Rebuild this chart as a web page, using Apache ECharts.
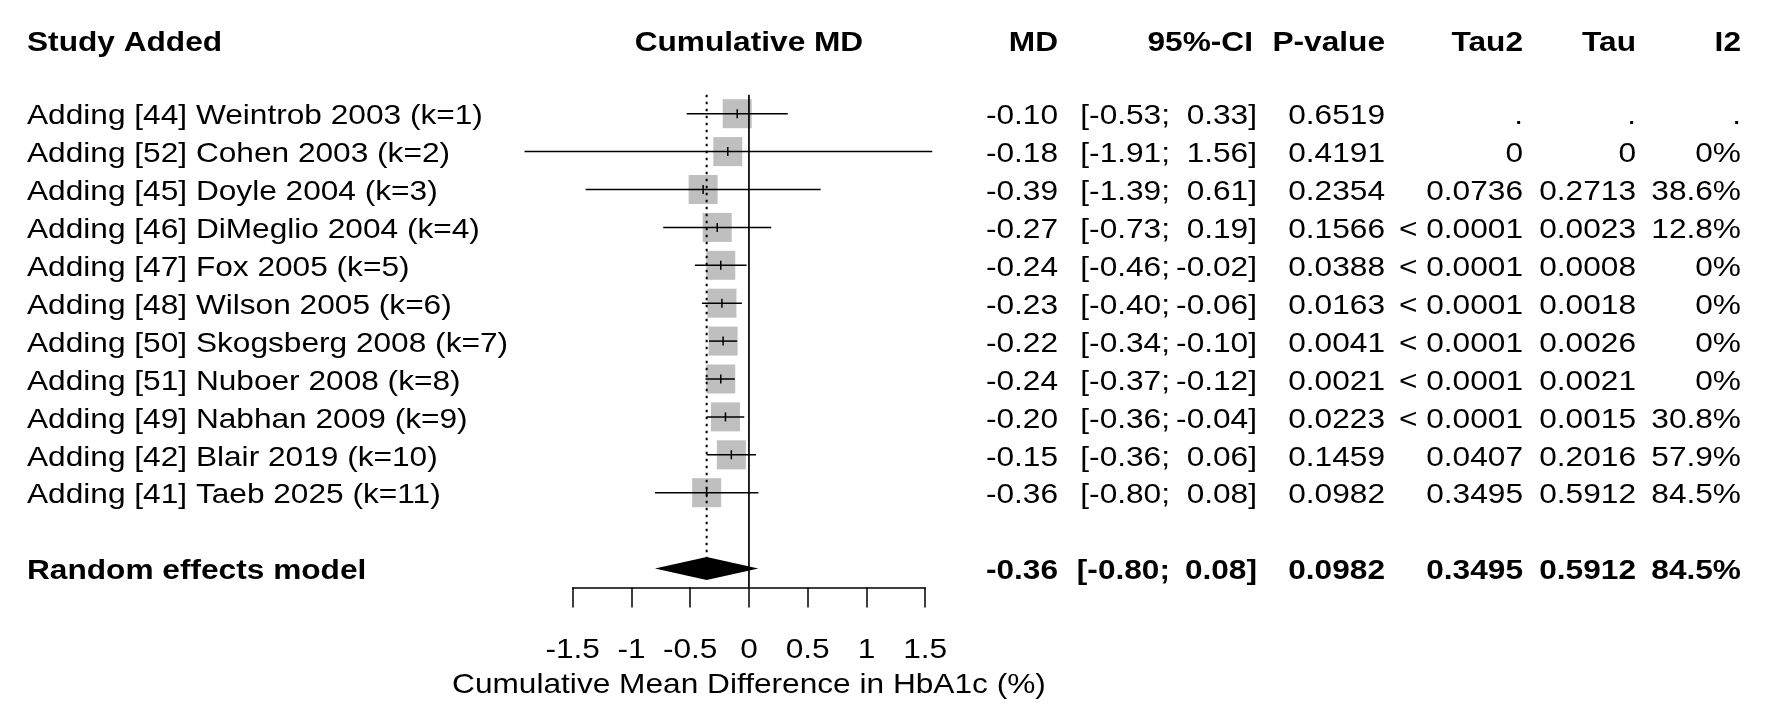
<!DOCTYPE html>
<html>
<head>
<meta charset="utf-8">
<title>Cumulative meta-analysis</title>
<style>
  html, body { margin: 0; padding: 0; background: #fff; }
  #chart { width: 1772px; height: 707px; }
</style>
<script src="https://cdn.jsdelivr.net/npm/echarts@6/dist/echarts.min.js"></script>
</head>
<body>
<div id="chart"></div>
<script>
// ---- data ----
const studies = [
  'Adding [44] Weintrob 2003 (k=1)',
  'Adding [52] Cohen 2003 (k=2)',
  'Adding [45] Doyle 2004 (k=3)',
  'Adding [46] DiMeglio 2004 (k=4)',
  'Adding [47] Fox 2005 (k=5)',
  'Adding [48] Wilson 2005 (k=6)',
  'Adding [50] Skogsberg 2008 (k=7)',
  'Adding [51] Nuboer 2008 (k=8)',
  'Adding [49] Nabhan 2009 (k=9)',
  'Adding [42] Blair 2019 (k=10)',
  'Adding [41] Taeb 2025 (k=11)'
];
const md    = [-0.10, -0.18, -0.39, -0.27, -0.24, -0.23, -0.22, -0.24, -0.20, -0.15, -0.36];
const lower = [-0.53, -1.91, -1.39, -0.73, -0.46, -0.40, -0.34, -0.37, -0.36, -0.36, -0.80];
const upper = [ 0.33,  1.56,  0.61,  0.19, -0.02, -0.06, -0.10, -0.12, -0.04,  0.06,  0.08];
const pval  = ['0.6519', '0.4191', '0.2354', '0.1566', '0.0388', '0.0163', '0.0041', '0.0021', '0.0223', '0.1459', '0.0982'];
const tau2  = ['.', '0', '0.0736', '< 0.0001', '< 0.0001', '< 0.0001', '< 0.0001', '< 0.0001', '< 0.0001', '0.0407', '0.3495'];
const tau   = ['.', '0', '0.2713', '0.0023', '0.0008', '0.0018', '0.0026', '0.0021', '0.0015', '0.2016', '0.5912'];
const i2    = ['.', '0%', '38.6%', '12.8%', '0%', '0%', '0%', '0%', '30.8%', '57.9%', '84.5%'];

const pooledLabel = 'Random effects model';
const pooled = { md: -0.36, lower: -0.80, upper: 0.08, p: '0.0982', tau2: '0.3495', tau: '0.5912', i2: '84.5%' };

const headers = ['Study Added', 'Cumulative MD', 'MD', '95%-CI', 'P-value', 'Tau2', 'Tau', 'I2'];
const xTicks = [-1.5, -1, -0.5, 0, 0.5, 1, 1.5];
const xTitle = 'Cumulative Mean Difference in HbA1c (%)';

// ---- layout ----
const FONT = '"Liberation Sans", Arial, Helvetica, sans-serif';
const STRETCH = 1.13;       // the source font is a bit wider than Arial
const TEXT_DY = 3;
const ROW_HEAD = -1.93;
const ROW_POOLED = 12;
const ROW_TICKS = 14.07;
const ROW_TITLE = 15.0;
const COL = { label: 27, md: 1058, ciLo: 1170, ciHi: 1257, p: 1385, tau2: 1523, tau: 1636, i2: 1741 };

const fmt = v => v.toFixed(2);

function txt(x, y, s, align, bold) {
  return {
    type: 'text',
    x: x,
    y: y + TEXT_DY,
    scaleX: STRETCH,
    style: {
      text: s,
      font: (bold ? 'bold ' : '') + '28px ' + FONT,
      fill: '#000',
      align: align,
      verticalAlign: 'middle',
      textAlign: align,
      textVerticalAlign: 'middle'
    }
  };
}

// rows for the text table: header, studies, pooled
const tableRows = [[ROW_HEAD]].concat(studies.map((s, i) => [i]), [[ROW_POOLED]]);

function renderTable(params, api) {
  const i = params.dataIndex;
  const y = api.coord([0, api.value(0)])[1];
  const xc = api.coord([0, api.value(0)])[0];
  if (i === 0) {
    return { type: 'group', children: [
      txt(COL.label, y, headers[0], 'left', true),
      txt(xc, y, headers[1], 'center', true),
      txt(COL.md, y, headers[2], 'right', true),
      txt(COL.ciHi - 4, y, headers[3], 'right', true),
      txt(COL.p, y, headers[4], 'right', true),
      txt(COL.tau2, y, headers[5], 'right', true),
      txt(COL.tau, y, headers[6], 'right', true),
      txt(COL.i2, y, headers[7], 'right', true)
    ]};
  }
  let r, bold;
  if (i === tableRows.length - 1) {
    r = { label: pooledLabel, md: pooled.md, lo: pooled.lower, hi: pooled.upper,
          p: pooled.p, tau2: pooled.tau2, tau: pooled.tau, i2: pooled.i2 };
    bold = true;
  } else {
    const k = i - 1;
    r = { label: studies[k], md: md[k], lo: lower[k], hi: upper[k],
          p: pval[k], tau2: tau2[k], tau: tau[k], i2: i2[k] };
    bold = false;
  }
  return { type: 'group', children: [
    txt(COL.label, y, r.label, 'left', bold),
    txt(COL.md, y, fmt(r.md), 'right', bold),
    txt(COL.ciLo, y, '[' + fmt(r.lo) + ';', 'right', bold),
    txt(COL.ciHi, y, fmt(r.hi) + ']', 'right', bold),
    txt(COL.p, y, r.p, 'right', bold),
    txt(COL.tau2, y, r.tau2, 'right', bold),
    txt(COL.tau, y, r.tau, 'right', bold),
    txt(COL.i2, y, r.i2, 'right', bold)
  ]};
}

function renderStudy(params, api) {
  const row = api.value(0);
  const pm = api.coord([api.value(1), row]);
  const pl = api.coord([api.value(2), row]);
  const ph = api.coord([api.value(3), row]);
  const half = 14.5;
  return { type: 'group', children: [
    { type: 'rect', shape: { x: pm[0] - half, y: pm[1] - half, width: half * 2, height: half * 2 },
      style: { fill: '#bfbfbf' } },
    { type: 'line', shape: { x1: pl[0], y1: pm[1], x2: ph[0], y2: pm[1] },
      style: { stroke: '#000', lineWidth: 1.5 } },
    { type: 'line', shape: { x1: pm[0], y1: pm[1] - 4.5, x2: pm[0], y2: pm[1] + 4.5 },
      style: { stroke: '#000', lineWidth: 1.5 } }
  ]};
}

function renderDiamond(params, api) {
  const row = api.value(0);
  const pm = api.coord([api.value(1), row]);
  const pl = api.coord([api.value(2), row]);
  const ph = api.coord([api.value(3), row]);
  const h = 11.5;
  return { type: 'polygon',
    shape: { points: [[pl[0], pm[1]], [pm[0], pm[1] - h], [ph[0], pm[1]], [pm[0], pm[1] + h]] },
    style: { fill: '#000' } };
}

function renderTick(params, api) {
  const p = api.coord([api.value(0), ROW_TICKS]);
  return txt(p[0], p[1], String(api.value(0)), 'center', false);
}

function renderTitle(params, api) {
  const p = api.coord([0, ROW_TITLE]);
  return txt(p[0], p[1], xTitle, 'center', false);
}

const chart = echarts.init(document.getElementById('chart'));
chart.setOption({
  animation: false,
  backgroundColor: '#fff',
  grid: { left: 572.7, right: 846.8, top: 37.9, bottom: 119.55, containLabel: false },
  xAxis: {
    type: 'value', min: -1.5, max: 1.5, interval: 0.5,
    axisLine: { show: true, onZero: false, lineStyle: { color: '#000', width: 1.5 } },
    axisTick: { show: true, length: 20, lineStyle: { color: '#000', width: 1.5 } },
    axisLabel: { show: false },
    splitLine: { show: false }
  },
  yAxis: { type: 'value', inverse: true, min: -2, max: 12.5, show: false },
  series: [
    { type: 'line', data: [[0, -0.5], [0, 12.5]], symbol: 'none', silent: true,
      lineStyle: { color: '#000', width: 1.7 } },
    { type: 'line', data: [[pooled.md, -0.5], [pooled.md, ROW_POOLED - 0.3]], symbol: 'none', silent: true,
      lineStyle: { color: '#000', width: 2, type: [2.5, 4.5] } },
    { type: 'custom', clip: false, renderItem: renderStudy,
      data: studies.map((s, i) => [i, md[i], lower[i], upper[i]]) },
    { type: 'custom', clip: false, renderItem: renderDiamond,
      data: [[ROW_POOLED, pooled.md, pooled.lower, pooled.upper]] },
    { type: 'custom', clip: false, renderItem: renderTable, data: tableRows },
    { type: 'custom', clip: false, renderItem: renderTick, data: xTicks.map(v => [v]) },
    { type: 'custom', clip: false, renderItem: renderTitle, data: [[0]] }
  ]
});
</script>
</body>
</html>
